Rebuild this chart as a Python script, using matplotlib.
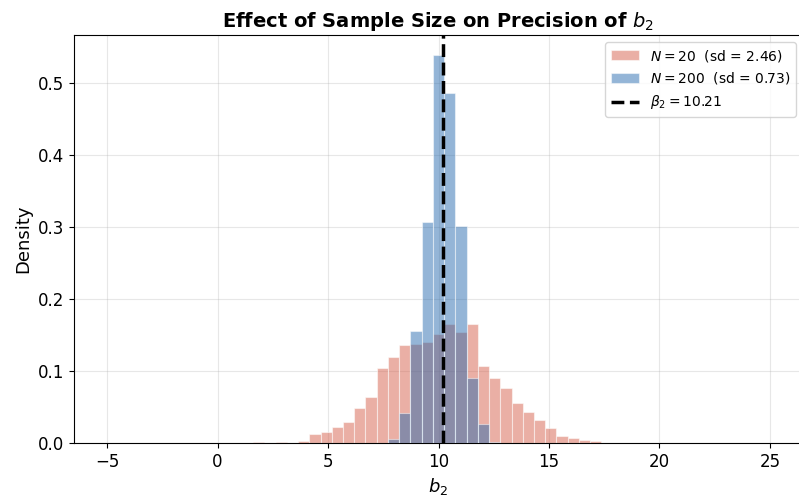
import numpy as np
import matplotlib
matplotlib.use("Agg")
import matplotlib.pyplot as plt

plt.rcParams["font.family"] = ["DejaVu Sans"]

# bins shared by both histograms
bin_lo = -5
bin_hi = 25
n_edges = 60

beta2 = 10.21
sd_small = 2.46
sd_large = 0.73

# density per bin (bin 0 .. 58)
dens_n20 = [0] * 13 + [
    0.002, 0.0, 0.002, 0.0, 0.003, 0.012, 0.015, 0.022, 0.029, 0.049,
    0.064, 0.104, 0.119, 0.136, 0.138, 0.140, 0.152, 0.166, 0.154, 0.165,
    0.107, 0.090, 0.077, 0.055, 0.0435, 0.032, 0.021, 0.0097, 0.0074, 0.0046,
    0.0028,
] + [0] * 15
dens_n200 = [0] * 25 + [
    0.006, 0.042, 0.155, 0.307, 0.539, 0.486, 0.302, 0.091, 0.026, 0.002,
] + [0] * 24

edges = np.linspace(bin_lo, bin_hi, n_edges)
widths = np.diff(edges)

fig = plt.figure(figsize=(7.99, 4.96), dpi=100)
ax = fig.add_axes([74 / 799, 1 - 443 / 496, 729 / 799, 408 / 496])

b1 = ax.bar(edges[:-1], dens_n20, width=widths, align="edge", color="#d6604d",
            alpha=0.5, edgecolor="white", linewidth=0.8,
            label=r"$N = 20$  (sd = %.2f)" % sd_small, zorder=2)
b2 = ax.bar(edges[:-1], dens_n200, width=widths, align="edge", color="#2166ac",
            alpha=0.48, edgecolor="white", linewidth=0.8,
            label=r"$N = 200$  (sd = %.2f)" % sd_large, zorder=3)
ln = ax.axvline(beta2, color="black", linestyle="--", linewidth=2.5,
                label=r"$\beta_2 = %.2f$" % beta2, zorder=4)

ax.set_xlim(-6.5, 26.5)
ax.set_ylim(0, 0.567)
ax.grid(True, alpha=0.3)
ax.set_axisbelow(True)
ax.tick_params(labelsize=12)
ax.set_xlabel(r"$b_2$", fontsize=13)
ax.set_ylabel("Density", fontsize=13)
ax.set_title(r"Effect of Sample Size on Precision of $b_2$", fontsize=14,
             fontweight="bold")
ax.legend(handles=[b1, b2, ln], loc="upper right", fontsize=10)

fig.savefig("out.png", dpi=100)
